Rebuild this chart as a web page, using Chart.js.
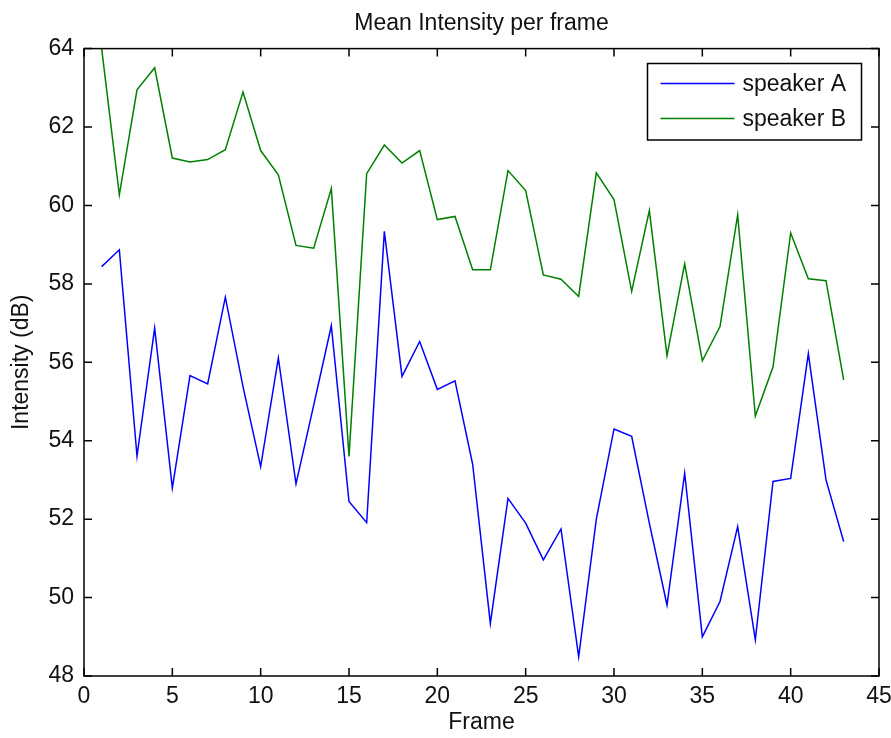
<!DOCTYPE html>
<html>
<head>
<meta charset="utf-8">
<script src="https://cdn.jsdelivr.net/npm/chart.js@4.4.1/dist/chart.umd.min.js"></script>
<style>
  html, body { margin: 0; padding: 0; background: #ffffff; }
  #wrap { width: 891px; height: 738px; }
</style>
</head>
<body>
<div id="wrap"><canvas id="c" width="891" height="738"></canvas></div>
<script>
const chartTitle = "Mean Intensity per frame";
const xTitle = "Frame";
const yTitle = "Intensity (dB)";
const seriesNames = ["speaker A", "speaker B"];
const frames = [1, 2, 3, 4, 5, 6, 7, 8, 9, 10, 11, 12, 13, 14, 15, 16, 17, 18, 19, 20, 21, 22,
                23, 24, 25, 26, 27, 28, 29, 30, 31, 32, 33, 34, 35, 36, 37, 38, 39, 40, 41, 42, 43];
const speakerA = [58.44, 58.87, 53.61, 56.87, 52.79, 55.66, 55.45, 57.66, 55.38, 53.34,
                  56.11, 52.90, 54.90, 56.93, 52.45, 51.91, 59.34, 55.64, 56.53, 55.31,
                  55.53, 53.40, 49.34, 52.53, 51.90, 50.96, 51.75, 48.49, 52.00, 54.30,
                  54.11, 51.90, 49.81, 53.17, 49.00, 49.90, 51.81, 48.92, 52.96, 53.04,
                  56.22, 53.00, 51.43];
const speakerB = [64.00, 60.27, 62.95, 63.51, 61.21, 61.11, 61.17, 61.42, 62.89, 61.40,
                  60.78, 58.98, 58.91, 60.43, 53.60, 60.81, 61.54, 61.08, 61.40, 59.64,
                  59.72, 58.36, 58.36, 60.89, 60.38, 58.23, 58.12, 57.68, 60.83, 60.15,
                  57.81, 59.87, 56.17, 58.51, 56.04, 56.91, 59.76, 54.63, 55.88, 59.30,
                  58.13, 58.08, 55.55];
const xTicks = [0, 5, 10, 15, 20, 25, 30, 35, 40, 45];
const yTicks = [48, 50, 52, 54, 56, 58, 60, 62, 64];

const FONT = "'Liberation Sans', Arial, sans-serif";
const colors = ["#0000ff", "#008000"];

const toPoints = (vals) => frames.map((f, i) => ({ x: f, y: vals[i] }));

const boxAndTicks = {
  id: 'boxAndTicks',
  afterDatasetsDraw(chart) {
    const { ctx, chartArea: a, scales } = chart;
    ctx.save();
    ctx.strokeStyle = '#000';
    ctx.lineWidth = 1.5;
    const L = 8;
    ctx.beginPath();
    scales.x.ticks.forEach(t => {
      const px = scales.x.getPixelForValue(t.value);
      ctx.moveTo(px, a.bottom); ctx.lineTo(px, a.bottom - L);
      ctx.moveTo(px, a.top); ctx.lineTo(px, a.top + L);
    });
    scales.y.ticks.forEach(t => {
      const py = scales.y.getPixelForValue(t.value);
      ctx.moveTo(a.left, py); ctx.lineTo(a.left + L, py);
      ctx.moveTo(a.right, py); ctx.lineTo(a.right - L, py);
    });
    ctx.stroke();
    ctx.strokeRect(a.left, a.top, a.right - a.left, a.bottom - a.top);
    ctx.restore();
  }
};

const innerLegend = {
  id: 'innerLegend',
  afterDraw(chart) {
    const { ctx } = chart;
    const bx = 647.5, by = 63.5, bw = 214, bh = 76.5;
    ctx.save();
    ctx.fillStyle = '#fff';
    ctx.fillRect(bx, by, bw, bh);
    ctx.strokeStyle = '#000';
    ctx.lineWidth = 1.5;
    ctx.strokeRect(bx, by, bw, bh);
    ctx.font = "23px " + FONT;
    ctx.textBaseline = 'middle';
    ctx.textAlign = 'left';
    chart.data.datasets.forEach((ds, i) => {
      const y = by + 20 + i * 35;
      ctx.strokeStyle = ds.borderColor;
      ctx.lineWidth = 1.5;
      ctx.beginPath();
      ctx.moveTo(bx + 13, y);
      ctx.lineTo(bx + 87, y);
      ctx.stroke();
      ctx.fillStyle = '#111';
      ctx.fillText(ds.label, bx + 95, y + 1.5);
    });
    ctx.restore();
  }
};

new Chart(document.getElementById('c'), {
  type: 'line',
  data: {
    datasets: [
      { label: seriesNames[0], data: toPoints(speakerA), borderColor: colors[0], backgroundColor: colors[0],
        borderWidth: 1.5, pointRadius: 0, tension: 0, fill: false },
      { label: seriesNames[1], data: toPoints(speakerB), borderColor: colors[1], backgroundColor: colors[1],
        borderWidth: 1.5, pointRadius: 0, tension: 0, fill: false }
    ]
  },
  options: {
    responsive: false,
    animation: false,
    devicePixelRatio: 1,
    layout: { padding: { left: 0, right: 0, top: 0, bottom: 0 } },
    plugins: {
      legend: { display: false },
      tooltip: { enabled: false },
      title: {
        display: true,
        fullSize: false,
        text: chartTitle,
        color: '#111',
        font: { family: FONT, size: 23, weight: 'normal' },
        padding: { top: 10, bottom: 11 }
      }
    },
    scales: {
      x: {
        type: 'linear',
        min: 0, max: 45,
        afterBuildTicks: (s) => { s.ticks = xTicks.map(v => ({ value: v })); },
        ticks: { color: '#111', font: { family: FONT, size: 23 }, padding: 7, maxRotation: 0, autoSkip: false },
        grid: { display: false, drawTicks: false, tickLength: 0 },
        border: { display: false },
        title: { display: true, text: xTitle, color: '#111', font: { family: FONT, size: 23 }, padding: { top: 0, bottom: 2 } },
        afterFit: (s) => { s.height = 62; s.paddingLeft = 0; s.paddingRight = 12; }
      },
      y: {
        min: 48, max: 64,
        afterBuildTicks: (s) => { s.ticks = yTicks.map(v => ({ value: v })); },
        ticks: { color: '#111', font: { family: FONT, size: 23 }, padding: 10, autoSkip: false },
        grid: { display: false, drawTicks: false, tickLength: 0 },
        border: { display: false },
        title: { display: true, text: yTitle, color: '#111', font: { family: FONT, size: 23 }, padding: { top: 8, bottom: 0 } },
        afterFit: (s) => { s.width = 84; s.paddingTop = 0; s.paddingBottom = 0; }
      }
    }
  },
  plugins: [boxAndTicks, innerLegend]
});
</script>
</body>
</html>
